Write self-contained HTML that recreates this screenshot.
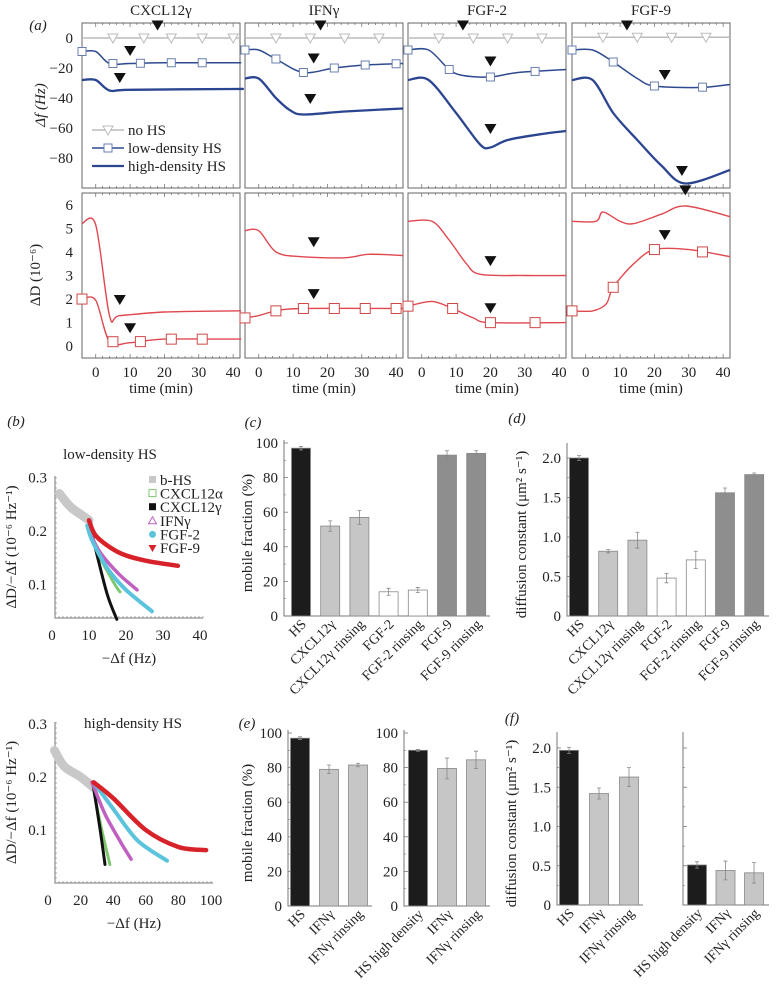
<!DOCTYPE html>
<html><head><meta charset="utf-8"><style>
body{margin:0;background:#fff}
svg{display:block;font-family:"Liberation Serif",serif;fill:#222}
</style></head><body>
<svg id="fig" width="778" height="984" viewBox="0 0 778 984" xmlns="http://www.w3.org/2000/svg"></svg>
<script>
// ---------- Panel (a) data ----------
const panelTitles=['CXCL12γ','IFNγ','FGF-2','FGF-9'];
const lowFt=[[-4,0,4,10,20,40,42],[-4,0,5,13,22,31,42],[-4,2,8,12,20,28,42],[-4,2,8,15,20,33,42]];
const lowFv=[[-9,-9,-17,-17,-16.5,-16.5,-16.5],[-8,-8,-14,-23,-20,-18,-17],[-8,-8,-21,-25,-26,-23,-21],[-8,-8,-16,-27,-32,-33,-31]];
const lowFmk=[[-4,5,13,22,31],[-4,5,13,22,31,40],[-4,8,20,33],[-4,8,20,34]];
const highFt=[[-4,0,4,10,40,42],[-4,0,5,9,13,25,42],[-4,2,10,17,20,25,35,42],[-4,2,8,15,22,29,42]];
const highFv=[[-28,-28,-35,-34.5,-34,-34],[-27,-27,-40,-48,-51,-49,-47],[-28,-28,-50,-71,-73,-68,-64,-62],[-28,-28,-50,-68,-85,-97,-88]];
const noFv=[0,0,0,0.5];
const noFmk=[[5,14,22,31,40],[5,15,25,35],[5,15,25,35],[5,15,25,35]];
const arrF=[[[18,5],[10,-12],[7,-30]],[[18,5],[16,-17],[15,-44]],[[12,5],[20,-19],[20,-64]],[[12,5],[23,-28],[28,-92]]];
const highDt=[[-4,0,4,7,20,40,42],[-4,0,5,12,25,32,42],[-4,3,8,13,17,30,42],[-4,3,5,10,14,22,29,42]];
const highDv=[[5.2,5.15,1.3,1.3,1.45,1.5,1.5],[4.9,4.9,4.0,3.8,3.75,3.9,3.85],[5.3,5.3,4.5,3.5,3.05,3.0,3.0],[5.3,5.3,5.7,5.3,5.2,5.6,5.95,5.5]];
const lowDt=[[-4,0,4,10,20,40,42],[-4,0,5,13,42],[-4,3,9,15,20,42],[-4,2,6,8,14,20,30,42]];
const lowDv=[[2.0,1.95,0.2,0.15,0.3,0.3,0.3],[1.2,1.3,1.5,1.6,1.6],[1.7,1.9,1.6,1.2,1.0,1.0],[1.5,1.5,1.8,2.5,3.5,4.1,4.1,3.8]];
const lowDmk=[[-4,5,13,22,31],[-4,5,13,22,31,40],[-4,9,20,33],[-4,8,20,34]];
const arrD=[[[7,1.75],[10,0.55]],[[16,4.2],[16,2.0]],[[20,3.4],[20,1.4]],[[29,6.4],[23,4.5]]];
const tTicks=[0,10,20,30,40];
const fTicks=[0,-20,-40,-60,-80];
const dTicks=[0,1,2,3,4,5,6];

// ---------- Panel (b) data ----------
const bSeries=['b-HS','CXCL12α','CXCL12γ','IFNγ','FGF-2','FGF-9'];
const bLowX=[[2,5,8,10],[10,13,17,18.5],[10,12,15,17.5],[10,13,18,23],[9.5,11,15,20,27],[10,12,18,25,34]];
const bLowY=[[0.27,0.245,0.23,0.22],[0.2,0.15,0.1,0.085],[0.22,0.16,0.08,0.035],[0.2,0.16,0.12,0.09],[0.21,0.18,0.13,0.09,0.05],[0.22,0.19,0.16,0.145,0.135]];
const bHighX=[[4,10,20,28],[27,33,38],[28,32,35],[27,35,45,51],[28,40,55,73],[28,40,60,80,97]];
const bHighY=[[0.25,0.22,0.2,0.18],[0.19,0.1,0.035],[0.18,0.1,0.035],[0.19,0.13,0.075,0.045],[0.19,0.14,0.08,0.042],[0.19,0.16,0.1,0.068,0.062]];

// ---------- Bar data ----------
const cCats=['HS','CXCL12γ','CXCL12γ rinsing','FGF-2','FGF-2 rinsing','FGF-9','FGF-9 rinsing'];
const cVals=[97,52,57,14,15,93,94];
const cErr=[1,3,4,2,1.5,2.5,1.5];
const dVals=[2.0,0.82,0.96,0.48,0.71,1.56,1.79];
const dErr=[0.03,0.02,0.1,0.06,0.11,0.06,0.02];
const e1Cats=['HS','IFNγ','IFNγ rinsing'];
const e1Vals=[97,79,81.5];
const e1Err=[0.8,2.5,1];
const e2Cats=['HS high density','IFNγ','IFNγ rinsing'];
const e2Vals=[90,79.5,84.5];
const e2Err=[0.5,6,5];
const f1Vals=[1.97,1.42,1.63];
const f1Err=[0.04,0.07,0.12];
const f2Vals=[0.51,0.44,0.41];
const f2Err=[0.04,0.12,0.13];
const pctTicks=[0,20,40,60,80,100];
const difTicks=[0,0.5,1.0,1.5,2.0];

const svg=document.getElementById('fig');
const NS='http://www.w3.org/2000/svg';
function mk(tag,a,p){const e=document.createElementNS(NS,tag);for(const k in a)e.setAttribute(k,a[k]);(p||svg).appendChild(e);return e;}
function txt(x,y,s,size,anchor,extra){const e=mk('text',Object.assign({x:x,y:y,'font-size':size||14,'text-anchor':anchor||'middle'},extra||{}));e.textContent=s;return e;}

// ---------- Panel (a) ----------
const aLeft=[82,245,408,572], aW=158;
function xA(i,t){return aLeft[i]+(t+4)/46*aW;}
function yTop(v){return 23+(10-v)/110*165;}
function yBot(v){return 193+(6.5-v)/7*165;}
function path(xs,ys,fx,fy){return xs.map((x,k)=>(k?'L':'M')+fx(x).toFixed(1)+' '+fy(ys[k]).toFixed(1)).join(' ');}
function spath(xs,ys,fx,fy){
  const P=xs.map((x,k)=>[fx(x),fy(ys[k])]);
  let d='M'+P[0][0].toFixed(1)+' '+P[0][1].toFixed(1);
  for(let k=0;k<P.length-1;k++){
    const p0=P[Math.max(0,k-1)],p1=P[k],p2=P[k+1],p3=P[Math.min(P.length-1,k+2)];
    const t=0.16;
    const c1=[p1[0]+(p2[0]-p0[0])*t,p1[1]+(p2[1]-p0[1])*t];
    const c2=[p2[0]-(p3[0]-p1[0])*t,p2[1]-(p3[1]-p1[1])*t];
    d+=` C${c1[0].toFixed(1)} ${c1[1].toFixed(1)} ${c2[0].toFixed(1)} ${c2[1].toFixed(1)} ${p2[0].toFixed(1)} ${p2[1].toFixed(1)}`;
  }
  return d;
}
function interp(ts,vs,t){if(t<=ts[0])return vs[0];for(let k=1;k<ts.length;k++){if(t<=ts[k]){const f=(t-ts[k-1])/(ts[k]-ts[k-1]);return vs[k-1]+f*(vs[k]-vs[k-1]);}}return vs[vs.length-1];}
function arrow(x,y){const e=mk('path',{d:`M${x-6} ${y-10} L${x+6} ${y-10} L${x} ${y} Z`,fill:'#111'});return e;}

let t0=txt(38,30,'(a)',15,'middle',{'font-style':'italic'});


let yl1=txt(0,0,'Δf (Hz)',15,'middle',{transform:'translate(45,105) rotate(-90)','font-style':'italic'});


let yl2=txt(0,0,'ΔD (10⁻⁶)',15,'middle',{transform:'translate(40,275) rotate(-90)'});


fTicks.forEach(v=>{const e=txt(73,yTop(v)+5,v===0?'0':'−'+(-v),15,'end');

});
dTicks.forEach(v=>{const e=txt(73,yBot(v)+5,String(v),15,'end');

});

for(let i=0;i<4;i++){
  const g=mk('g',{});
  
  
  const ti=txt(aLeft[i]+aW/2,15,panelTitles[i],15,'middle');
  
  
  g.appendChild(ti);
  [[23,188],[193,358]].forEach(r=>{
    const fr=mk('rect',{x:aLeft[i],y:r[0],width:aW,height:r[1]-r[0],fill:'none',stroke:'#666','stroke-width':1},g);
    
    
    for(let t=-0;t<=40;t+=2){const x=xA(i,t),L=t%10===0?4:2;
      mk('line',{x1:x,x2:x,y1:r[1],y2:r[1]-L,stroke:'#666','stroke-width':0.7},g);
      mk('line',{x1:x,x2:x,y1:r[0],y2:r[0]+L,stroke:'#666','stroke-width':0.7},g);}
  });
  tTicks.forEach(t=>{const e=txt(xA(i,t),377,String(t),15,'middle');
    
    g.appendChild(e);});
  const xl=txt(aLeft[i]+aW/2,393,'time (min)',15,'middle');
  
  g.appendChild(xl);
  const nl=mk('line',{x1:xA(i,-4),x2:xA(i,42),y1:yTop(noFv[i]),y2:yTop(noFv[i]),stroke:'#bbb','stroke-width':1.5},g);
  
  
  noFmk[i].forEach(t=>{const x=xA(i,t),y=yTop(noFv[i]);const m=mk('path',{d:`M${x-5} ${y-4} L${x+5} ${y-4} L${x} ${y+5} Z`,fill:'#fff',stroke:'#bbb'},g);
    
    });
  const lf=mk('path',{d:spath(lowFt[i],lowFv[i],t=>xA(i,t),yTop),fill:'none',stroke:'#2e4a8f','stroke-width':1.5},g);
  
  
  lowFmk[i].forEach(t=>{const x=xA(i,t),y=yTop(interp(lowFt[i],lowFv[i],t));const m=mk('rect',{x:x-4,y:y-4,width:8,height:8,fill:'#fff',stroke:'#6a7fb0'},g);
    
    });
  const hf=mk('path',{d:spath(highFt[i],highFv[i],t=>xA(i,t),yTop),fill:'none',stroke:'#2b4590','stroke-width':2.3},g);
  
  
  arrF[i].forEach(p=>{const a=arrow(xA(i,p[0]),yTop(p[1]));
    
    g.appendChild(a);});
  const hd=mk('path',{d:spath(highDt[i],highDv[i],t=>xA(i,t),yBot),fill:'none',stroke:'#e0484f','stroke-width':1.4},g);
  
  
  const ld=mk('path',{d:spath(lowDt[i],lowDv[i],t=>xA(i,t),yBot),fill:'none',stroke:'#e0484f','stroke-width':1.4},g);
  
  
  lowDmk[i].forEach(t=>{const x=xA(i,t),y=yBot(interp(lowDt[i],lowDv[i],t));const m=mk('rect',{x:x-5,y:y-5,width:10,height:10,fill:'#fff',stroke:'#d04848'},g);
    
    });
  arrD[i].forEach(p=>{const a=arrow(xA(i,p[0]),yBot(p[1]));
    
    g.appendChild(a);});
}
const lg=mk('g',{});


[['no HS','#bbb','tri',130],['low-density HS','#2e4a8f','sq',148],['high-density HS','#2b4590','none',166]].forEach(it=>{
  const l=mk('line',{x1:92,x2:124,y1:it[3],y2:it[3],stroke:it[1],'stroke-width':it[2]==='none'?2.3:1.5},lg);
  
  
  if(it[2]==='tri')mk('path',{d:`M103 126 L113 126 L108 135 Z`,fill:'#fff',stroke:'#bbb'},lg);
  if(it[2]==='sq')mk('rect',{x:104,y:it[3]-4,width:8,height:8,fill:'#fff',stroke:'#6a7fb0'},lg);
  const t=txt(128,it[3]+5,it[0],15,'start');
  
  lg.appendChild(t);
});

// ---------- Panel (b) ----------
const bColors=['#c8c8c8','#7cc76e','#111','#c060c0','#5bc4dc','#d8222a'];
const bWidths=[9,3,3,3.5,4,4.5];
function scatterPanel(name,X,Y,fx,fy,x0,x1,yb,yt,xt,yt2,title,tx,ty){
  const g=mk('g',{});
  
  
  const ax=mk('path',{d:`M${x0} ${yt} L${x0} ${yb} L${x1} ${yb}`,fill:'none',stroke:'#777','stroke-width':1},g);
  
  
  for(let x=x0;x<=x1;x+=4)mk('line',{x1:x,x2:x,y1:yb,y2:yb-2,stroke:'#777','stroke-width':0.6},g);
  for(let y=yb;y>=yt;y-=5)mk('line',{x1:x0,x2:x0+2,y1:y,y2:y,stroke:'#777','stroke-width':0.6},g);
  xt.forEach(v=>{const e=txt(fx(v),yb+22,String(v),15,'middle');
    
    g.appendChild(e);});
  yt2.forEach(v=>{const e=txt(x0-8,fy(v)+5,v.toFixed(1),15,'end');
    
    g.appendChild(e);});
  const tt=txt(tx,ty,title,15,'middle');
  
  g.appendChild(tt);
  X.forEach((xs,k)=>{const p=mk('path',{d:spath(xs,Y[k],fx,fy),fill:'none',stroke:bColors[k],'stroke-width':bWidths[k],'stroke-linecap':'round','stroke-linejoin':'round','stroke-dasharray':k===0||k===1?'2 1.5':'none'},g);
    
    });
  const xl=txt((x0+x1)/2,yb+45,'−Δf (Hz)',15,'middle');
  
  g.appendChild(xl);
  const yl=txt(0,0,'ΔD/−Δf (10⁻⁶ Hz⁻¹)',15,'middle',{transform:`translate(16,${(yb+yt)/2}) rotate(-90)`});
  
  g.appendChild(yl);
}
const bl=txt(16,426,'(b)',15,'middle',{'font-style':'italic'});


scatterPanel('scatter-low-density',bLowX,bLowY,v=>52+v*3.7,v=>638-v*535,55,203,618,476,[0,10,20,30,40],[0.1,0.2,0.3],'low-density HS',110,459);
scatterPanel('scatter-high-density',bHighX,bHighY,v=>48+v*1.63,v=>883-v*530,55,213,883,722,[0,20,40,60,80,100],[0.1,0.2,0.3],'high-density HS',133,728);
const blg=mk('g',{});


bSeries.forEach((s,k)=>{const y=480+k*13.6;let m;
  if(k===0||k===2)m=mk('rect',{x:149,y:y-4,width:7,height:7,fill:bColors[k]},blg);
  else if(k===1)m=mk('rect',{x:149,y:y-4,width:7,height:7,fill:'none',stroke:bColors[k]},blg);
  else if(k===3)m=mk('path',{d:`M152.5 ${y-4} L156.5 ${y+3} L148.5 ${y+3} Z`,fill:'none',stroke:bColors[k]},blg);
  else if(k===4)m=mk('circle',{cx:152.5,cy:y,r:3.5,fill:bColors[k]},blg);
  else m=mk('path',{d:`M148.5 ${y-3} L156.5 ${y-3} L152.5 ${y+4} Z`,fill:bColors[k]},blg);
  
  
  const t=txt(160,y+5,s,15,'start');
  
  blg.appendChild(t);});

// ---------- Bars ----------
const cFill=['#1c1c1c','#c6c6c6','#c6c6c6','#ffffff','#ffffff','#8e8e8e','#8e8e8e'];
const eFill=['#1c1c1c','#c6c6c6','#c6c6c6'];
function barChart(name,o){
  const g=mk('g',{});
  
  
  const fy=v=>o.y0-v*o.k;
  const ax=mk('path',{d:`M${o.ax} ${o.yTop} L${o.ax} ${o.y0} L${o.ax1} ${o.y0}`,fill:'none',stroke:'#777','stroke-width':1},g);
  
  
  o.ticks.forEach((v,j)=>{mk('line',{x1:o.ax,x2:o.ax+4,y1:fy(v),y2:fy(v),stroke:'#777','stroke-width':0.8},g);
    if(j<o.ticks.length-1){const m=fy((v+o.ticks[j+1])/2);mk('line',{x1:o.ax,x2:o.ax+2,y1:m,y2:m,stroke:'#777','stroke-width':0.6},g);}
    if(o.labels){const e=txt(o.ax-6,fy(v)+5,o.labels(v),15,'end');
      
      g.appendChild(e);}});
  o.vals.forEach((v,j)=>{const cx=o.cx0+j*o.step;
    const b=mk('rect',{x:cx-9.5,y:fy(v),width:19,height:o.y0-fy(v),fill:o.fill[j],stroke:'#888','stroke-width':0.8},g);
    
    
    const eb=mk('path',{d:`M${cx} ${fy(v+o.err[j])} L${cx} ${fy(v-o.err[j])} M${cx-2} ${fy(v+o.err[j])} L${cx+2} ${fy(v+o.err[j])} M${cx-2} ${fy(v-o.err[j])} L${cx+2} ${fy(v-o.err[j])}`,stroke:'#888','stroke-width':0.8,fill:'none'},g);
    
    
    const t=txt(0,0,o.cats[j],14,'end',{transform:`translate(${cx+6},${o.y0+9}) rotate(-45)`});
    
    g.appendChild(t);});
  if(o.title){const yl=txt(0,0,o.title,15,'middle',{transform:`translate(${o.tx},${(o.y0+o.yTop)/2+5}) rotate(-90)`});
    
    g.appendChild(yl);}
}
const pct=v=>String(v), dif=v=>v===0?'0':v.toFixed(1);
barChart('bar-chart-c',{ax:284,ax1:490,y0:616,yTop:440,k:1.73,ticks:pctTicks,labels:pct,vals:cVals,err:cErr,cats:cCats,fill:cFill,cx0:301,step:29.2,title:'mobile fraction (%)',tx:252});
barChart('bar-chart-d',{ax:567,ax1:769,y0:616,yTop:443,k:79,ticks:difTicks,labels:dif,vals:dVals,err:dErr,cats:cCats,fill:cFill,cx0:579,step:29.2,title:'diffusion constant (μm² s⁻¹)',tx:526});
barChart('bar-chart-e-low',{ax:288,ax1:372,y0:906,yTop:730,k:1.73,ticks:pctTicks,labels:pct,vals:e1Vals,err:e1Err,cats:e1Cats,fill:eFill,cx0:300,step:29,title:'mobile fraction (%)',tx:252});
barChart('bar-chart-e-high',{ax:404,ax1:490,y0:906,yTop:730,k:1.73,ticks:pctTicks,labels:pct,vals:e2Vals,err:e2Err,cats:e2Cats,fill:eFill,cx0:418,step:29});
barChart('bar-chart-f-low',{ax:557,ax1:643,y0:905,yTop:732,k:78.5,ticks:difTicks,labels:dif,vals:f1Vals,err:f1Err,cats:e1Cats,fill:eFill,cx0:569,step:30,title:'diffusion constant (μm² s⁻¹)',tx:516});
barChart('bar-chart-f-high',{ax:683,ax1:769,y0:905,yTop:732,k:78.5,ticks:difTicks,labels:null,vals:f2Vals,err:f2Err,cats:e2Cats,fill:eFill,cx0:697,step:28.5});
[['(c)',253,427],['(d)',517,423],['(e)',247,728],['(f)',512,723]].forEach(p=>{const e=txt(p[1],p[2],p[0],15,'middle',{'font-style':'italic'});
  
  });
</script>
</body></html>
